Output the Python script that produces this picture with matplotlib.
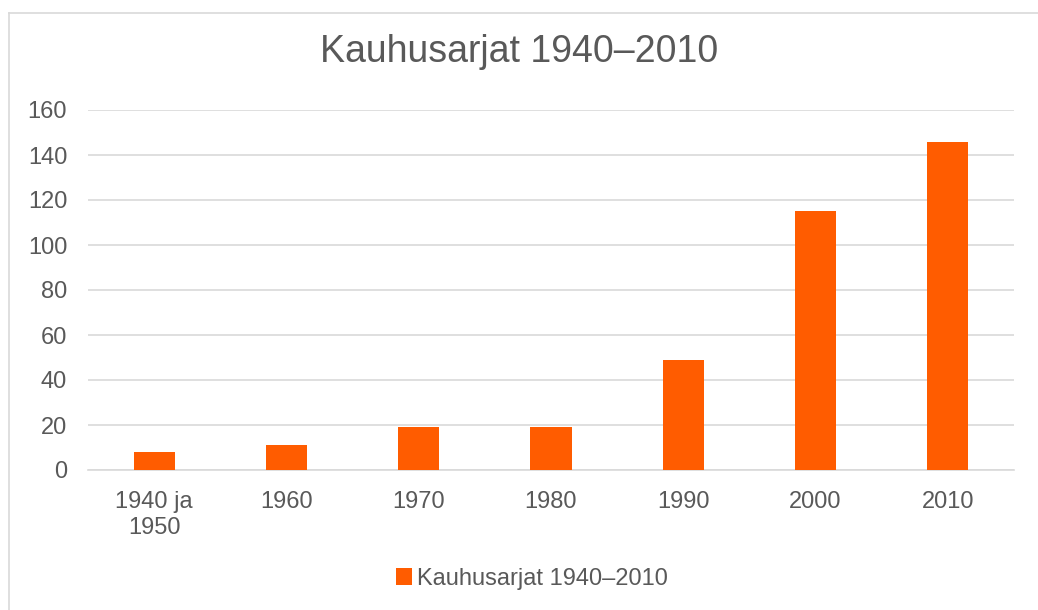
import matplotlib.pyplot as plt
from matplotlib.lines import Line2D

categories = ["1940 ja\n1950", "1960", "1970", "1980", "1990", "2000", "2010"]
values = [8, 11, 19, 19, 49, 115, 146]
series_name = "Kauhusarjat 1940\u20132010"
yticks = [0, 20, 40, 60, 80, 100, 120, 140, 160]

bar_color = "#FF5C00"
text_color = "#595959"
grid_color = "#D9D9D9"

plt.rcParams['font.family'] = ['Liberation Sans', 'DejaVu Sans']

fig = plt.figure(figsize=(10.38, 6.10), dpi=100)
ax = fig.add_axes([88 / 1038, 1 - 470 / 610, (1014 - 88) / 1038, 360 / 610])

x = range(len(categories))
ax.bar(x, values, width=0.31, color=bar_color, label=series_name, zorder=3)

ax.set_xlim(-0.5, len(categories) - 0.5)
ax.set_ylim(0, 160)
ax.set_yticks(yticks)
ax.set_xticks(list(x))
ax.set_xticklabels(categories, linespacing=1.25)
ax.yaxis.grid(True, color=grid_color, linewidth=1.2, zorder=0)
ax.tick_params(axis='both', length=0, labelsize=17, colors=text_color)
ax.tick_params(axis='x', pad=15)
ax.tick_params(axis='y', pad=15)
for s in ["top", "right", "left"]:
    ax.spines[s].set_visible(False)
ax.spines["bottom"].set_color(grid_color)
ax.spines["bottom"].set_linewidth(1.2)

fig.text(0.5, 1 - 52 / 610, "Kauhusarjat 1940\u20132010", ha='center', va='center',
         fontsize=27, color=text_color)

leg = fig.legend(loc='center', bbox_to_anchor=(532 / 1038, 1 - 579 / 610), frameon=False,
                 fontsize=17, handlelength=0.7, handleheight=0.7, handletextpad=0.2)
for t in leg.get_texts():
    t.set_color(text_color)

# outer chart border (left and top only visible)
fig.add_artist(Line2D([9 / 1038, 9 / 1038], [0, 1 - 13 / 610], color=grid_color,
                      linewidth=1.2, transform=fig.transFigure))
fig.add_artist(Line2D([9 / 1038, 1], [1 - 13 / 610, 1 - 13 / 610], color=grid_color,
                      linewidth=1.2, transform=fig.transFigure))

fig.savefig("out.png", dpi=100, facecolor="white")
